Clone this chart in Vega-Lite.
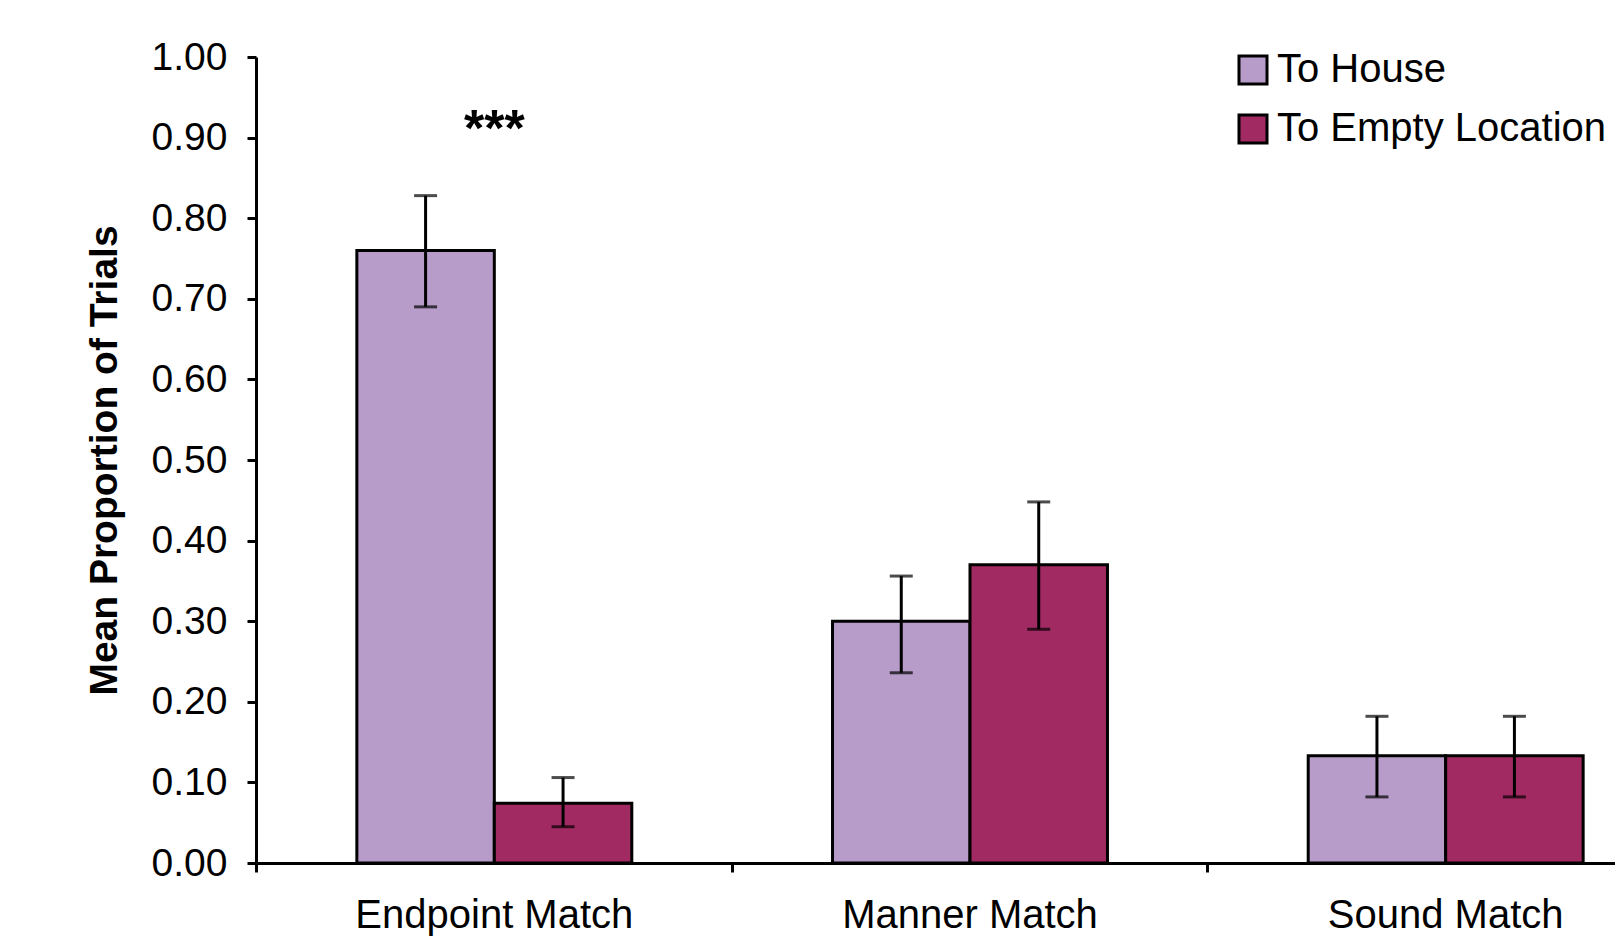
{
  "$schema": "https://vega.github.io/schema/vega-lite/v6.json",
  "autosize": {"type": "none"},
  "padding": {"left": 256, "top": 57, "right": 0, "bottom": 74},
  "width": 1359,
  "height": 806,
  "background": "white",
  "config": {
    "font": "Liberation Sans",
    "view": {"stroke": null},
    "axis": {"grid": false, "domainColor": "black", "domainWidth": 3, "tickColor": "black", "tickWidth": 3, "tickSize": 9, "labelColor": "black", "labelFont": "Liberation Sans", "labelFontSize": 39, "titleColor": "black"},
    "axisX": {"labelPadding": 23, "labelAngle": 0, "title": null, "labelLimit": 0, "labelFontSize": 40},
    "axisY": {"labelPadding": 20, "titleFontSize": 39, "titleFontWeight": "bold", "titleX": -152, "titleY": 403, "titleBaseline": "middle", "titleAngle": -90}
  },
  "data": {"values": [
    {"category": "Endpoint Match", "condition": "To House", "mean": 0.76, "lo": 0.69, "hi": 0.828},
    {"category": "Endpoint Match", "condition": "To Empty Location", "mean": 0.074, "lo": 0.045, "hi": 0.106},
    {"category": "Manner Match", "condition": "To House", "mean": 0.30, "lo": 0.236, "hi": 0.356},
    {"category": "Manner Match", "condition": "To Empty Location", "mean": 0.37, "lo": 0.29, "hi": 0.448},
    {"category": "Sound Match", "condition": "To House", "mean": 0.133, "lo": 0.082, "hi": 0.182},
    {"category": "Sound Match", "condition": "To Empty Location", "mean": 0.133, "lo": 0.082, "hi": 0.182}
  ]},
  "layer": [
    {
      "mark": {"type": "bar", "stroke": "black", "strokeWidth": 3},
      "encoding": {
        "x": {"field": "category", "type": "nominal", "sort": null, "scale": {"range": [0, 1428], "paddingInner": 0.422, "paddingOuter": 0.212}, "axis": {"bandPosition": -0.365}},
        "xOffset": {"field": "condition", "type": "nominal", "sort": ["To House", "To Empty Location"], "scale": {"paddingInner": 0, "paddingOuter": 0}},
        "y": {"field": "mean", "type": "quantitative", "scale": {"domain": [0, 1], "nice": false}, "title": "Mean Proportion of Trials", "axis": {"values": [0, 0.1, 0.2, 0.3, 0.4, 0.5, 0.6, 0.7, 0.8, 0.9, 1.0], "format": ".2f"}},
        "color": {
          "field": "condition", "type": "nominal",
          "scale": {"domain": ["To House", "To Empty Location"], "range": ["#B79CCA", "#A22A62"]},
          "legend": {"orient": "none", "legendX": 977, "legendY": -7, "title": null, "symbolType": "square", "symbolSize": 784, "symbolStrokeColor": "black", "symbolStrokeWidth": 3, "symbolOpacity": 1, "labelFontSize": 40, "labelColor": "black", "labelLimit": 0, "rowPadding": 19, "labelOffset": 4}
        }
      }
    },
    {
      "mark": {"type": "rule", "color": "black", "strokeWidth": 3},
      "encoding": {
        "x": {"field": "category", "type": "nominal", "sort": null},
        "xOffset": {"field": "condition", "type": "nominal", "sort": ["To House", "To Empty Location"]},
        "y": {"field": "lo", "type": "quantitative", "title": "Mean Proportion of Trials"},
        "y2": {"field": "hi"}
      }
    },
    {
      "mark": {"type": "tick", "color": "black", "thickness": 3, "size": 23, "orient": "horizontal"},
      "encoding": {
        "x": {"field": "category", "type": "nominal", "sort": null},
        "xOffset": {"field": "condition", "type": "nominal", "sort": ["To House", "To Empty Location"]},
        "y": {"field": "lo", "type": "quantitative", "title": "Mean Proportion of Trials"}
      }
    },
    {
      "mark": {"type": "tick", "color": "black", "thickness": 3, "size": 23, "orient": "horizontal"},
      "encoding": {
        "x": {"field": "category", "type": "nominal", "sort": null},
        "xOffset": {"field": "condition", "type": "nominal", "sort": ["To House", "To Empty Location"]},
        "y": {"field": "hi", "type": "quantitative", "title": "Mean Proportion of Trials"}
      }
    },
    {
      "data": {"values": [{"category": "Endpoint Match", "label": "***", "pos": 0.91}]},
      "mark": {"type": "text", "fontSize": 52, "fontWeight": "bold", "color": "black", "baseline": "middle"},
      "encoding": {
        "x": {"field": "category", "type": "nominal", "sort": null},
        "y": {"field": "pos", "type": "quantitative", "title": "Mean Proportion of Trials"},
        "text": {"field": "label"}
      }
    }
  ]
}
